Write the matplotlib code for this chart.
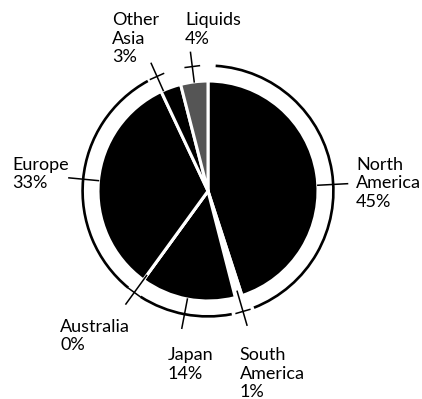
import numpy as np
import matplotlib.pyplot as plt
from matplotlib.patches import Wedge, Arc

plt.rcParams["font.family"] = ["Lato", "DejaVu Sans"]

# share of total, clockwise from 12 o'clock
regions = ["North\nAmerica", "South\nAmerica", "Japan", "Australia",
           "Europe", "Other\nAsia", "Liquids"]
shares = [45, 1, 14, 0, 33, 3, 4]
fills = ["black", "white", "black", "black", "black", "black", "#555555"]

# label anchor (left edge, top of first line) in pie radius units
label_xy = {
    "North\nAmerica": (1.345, 0.31),
    "South\nAmerica": (0.29, -1.42),
    "Japan": (-0.37, -1.42),
    "Australia": (-1.345, -1.165),
    "Europe": (-1.78, 0.31),
    "Other\nAsia": (-0.873, 1.625),
    "Liquids": (-0.209, 1.625),
}
leader_override = {"North\nAmerica": 87.0, "Other\nAsia": 336.0}

R = 1.0
R_RING = 1.14


def polar(theta_deg, r):
    # angle measured clockwise from the top
    t = np.radians(theta_deg)
    return r * np.sin(t), r * np.cos(t)


fig = plt.figure(figsize=(4.22, 3.99), dpi=100)
ax = fig.add_axes([0, 0, 1, 1])
ax.set_xlim(-208 / 110, 214 / 110)
ax.set_ylim(-208 / 110, 191 / 110)
ax.set_aspect("equal")
ax.axis("off")

bounds = np.concatenate([[0], np.cumsum(shares)]) * 3.6
for i, name in enumerate(regions):
    a0, a1 = bounds[i], bounds[i + 1]
    # matplotlib wedges run counter-clockwise from 3 o'clock
    ax.add_patch(Wedge((0, 0), R, 90 - a1, 90 - a0, facecolor=fills[i],
                       edgecolor="white", linewidth=2.2))

    mid = leader_override.get(name, (a0 + a1) / 2)
    big = shares[i] >= 10
    if big:
        ax.add_patch(Arc((0, 0), 2 * R_RING, 2 * R_RING,
                         theta1=90 - a1 + 3.5, theta2=90 - a0 - 3.5,
                         color="black", linewidth=1.9))

    x0, y0 = polar(mid, 0.95 if shares[i] <= 1 else 1.0)
    x1, y1 = polar(mid, 1.27)
    ax.plot([x0, x1], [y0, y1], color="black", linewidth=1.1)
    if not big:
        cx, cy = polar(mid, R_RING)
        px, py = polar(mid + 90, 0.065)
        ax.plot([cx - px, cx + px], [cy - py, cy + py], color="black",
                linewidth=1.1)

    lx, ly = label_xy[name]
    ax.text(lx, ly, f"{name}\n{shares[i]}%", ha="left", va="top",
            fontsize=13, linespacing=1.18, color="black",
            transform=ax.transData)

fig.savefig("out.png", dpi=100)
